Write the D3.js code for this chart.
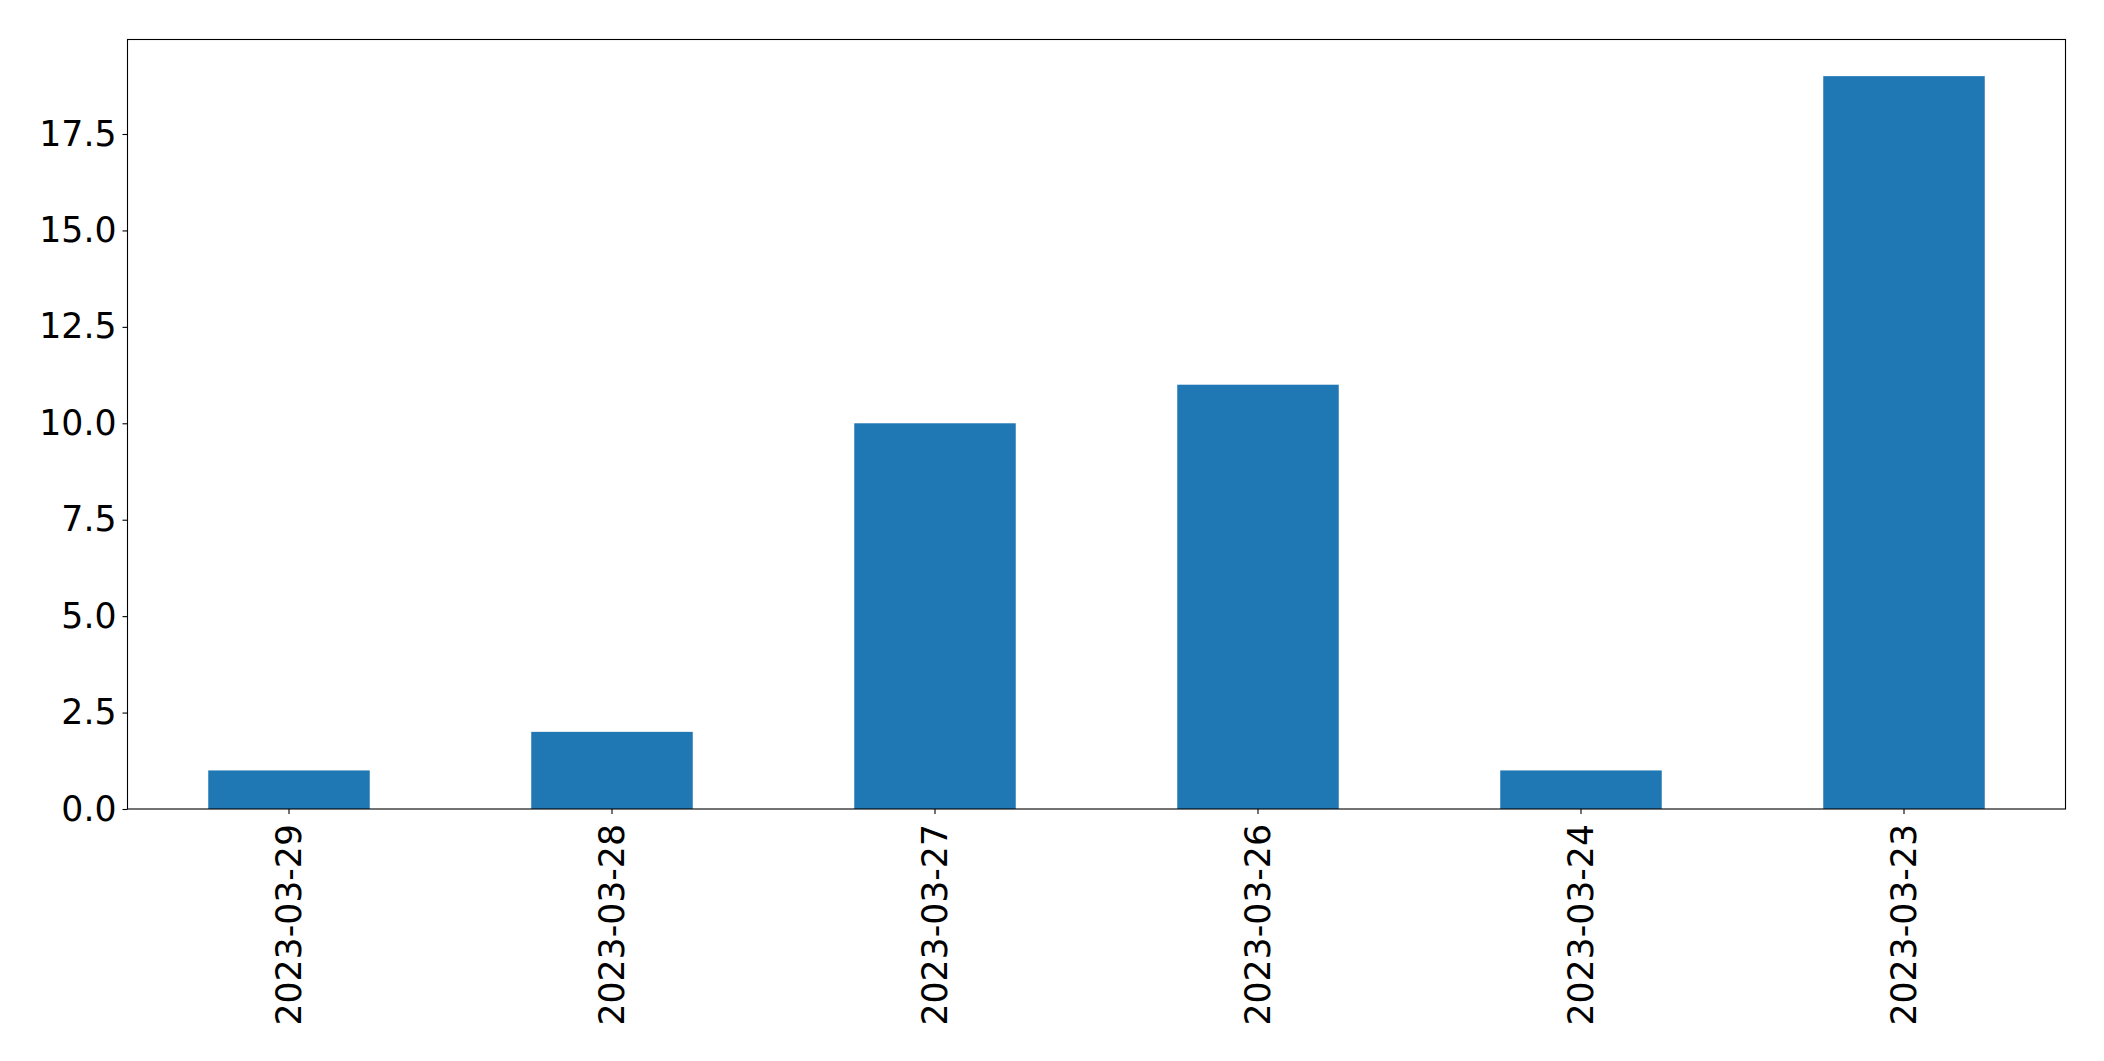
<!DOCTYPE html>
<html>
<head>
<meta charset="utf-8">
<script src="https://cdn.jsdelivr.net/npm/d3@7"></script>
<style>
  html, body { margin: 0; padding: 0; background: #fff; }
  svg { display: block; }
  text { font-family: "DejaVu Sans", sans-serif; }
</style>
</head>
<body>
<script>
const categories = ["2023-03-29", "2023-03-28", "2023-03-27", "2023-03-26", "2023-03-24", "2023-03-23"];
const values = [1, 2, 10, 11, 1, 19];
const yTicks = [0, 2.5, 5, 7.5, 10, 12.5, 15, 17.5];

const W = 2104, H = 1061;
const m = { left: 127.5, right: 2065.5, top: 39.5, bottom: 809 };

const svg = d3.select("body").append("svg").attr("width", W).attr("height", H);

const x = d3.scaleBand().domain(categories).range([m.left, m.right]).paddingInner(0.5).paddingOuter(0.25);
const y = d3.scaleLinear().domain([0, 19.95]).range([m.bottom, m.top]);

svg.append("g").selectAll("rect").data(values).join("rect")
  .attr("x", (d, i) => x(categories[i]))
  .attr("width", x.bandwidth())
  .attr("y", d => y(d))
  .attr("height", d => y(0) - y(d))
  .attr("fill", "#1f77b4");

const fs = 34.7;

const yAxis = svg.append("g").attr("transform", `translate(${m.left},0)`)
  .call(d3.axisLeft(y).tickValues(yTicks).tickFormat(d3.format(".1f")).tickSize(5).tickPadding(6));
yAxis.select(".domain").remove();
yAxis.selectAll("line").attr("stroke", "#000").attr("stroke-width", 1.1);
yAxis.selectAll("text").attr("font-size", fs).attr("fill", "#000").attr("font-family", "DejaVu Sans");

const xAxis = svg.append("g").attr("transform", `translate(0,${m.bottom})`)
  .call(d3.axisBottom(x).tickSize(5).tickPadding(7));
xAxis.select(".domain").remove();
xAxis.selectAll("line").attr("stroke", "#000").attr("stroke-width", 1.1);
xAxis.selectAll("text")
  .attr("font-size", fs).attr("fill", "#000").attr("font-family", "DejaVu Sans")
  .attr("transform", "rotate(-90)")
  .attr("text-anchor", "end")
  .attr("dy", "0.35em")
  .attr("x", -15)
  .attr("y", 0);

svg.append("rect")
  .attr("x", m.left).attr("y", m.top)
  .attr("width", m.right - m.left).attr("height", m.bottom - m.top)
  .attr("fill", "none").attr("stroke", "#000").attr("stroke-width", 1.1);
</script>
</body>
</html>
